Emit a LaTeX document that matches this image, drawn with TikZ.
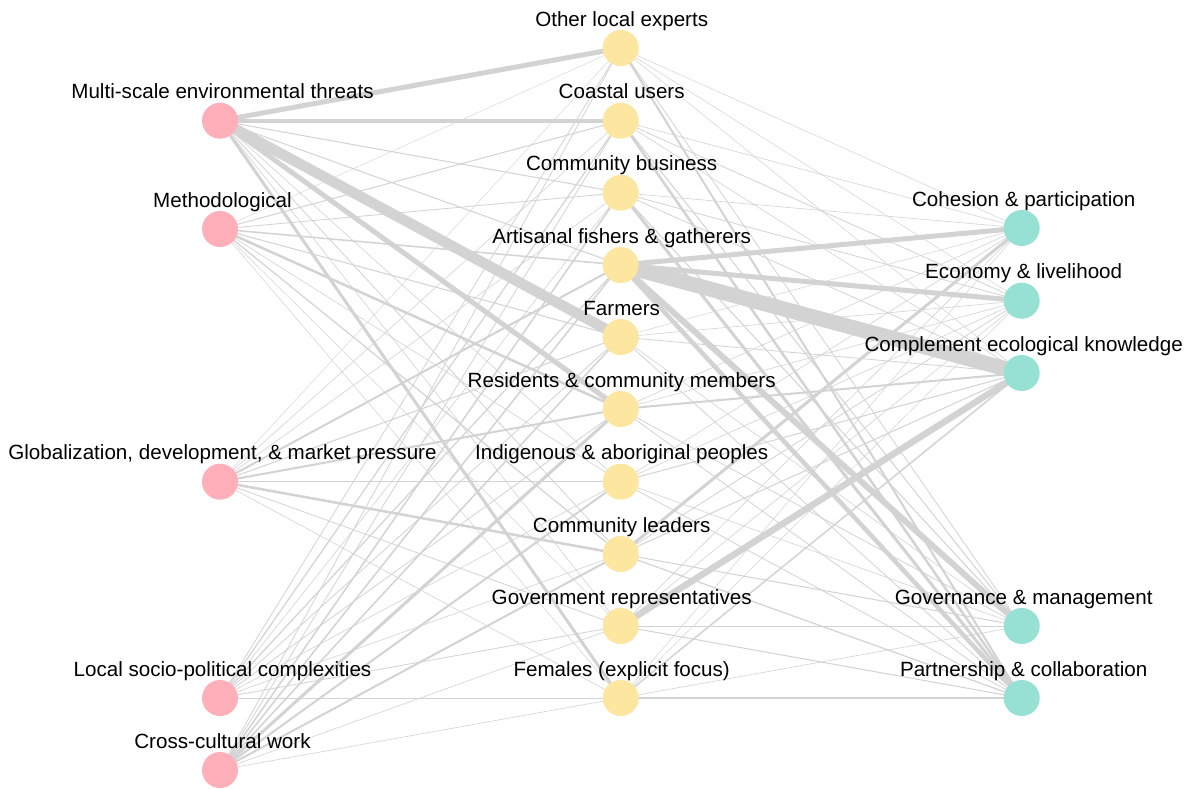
\documentclass[tikz,border=0pt]{standalone}
\usepackage{fontspec}
\setmainfont{Liberation Sans}
\definecolor{pinkc}{RGB}{255,175,185}
\definecolor{yellc}{RGB}{253,230,160}
\definecolor{tealc}{RGB}{150,225,212}
\definecolor{edgec}{RGB}{211,211,211}
\pgfdeclarelayer{bg}
\pgfdeclarelayer{edges}
\pgfsetlayers{bg,edges,main}
\begin{document}
\begin{tikzpicture}[x=1pt,y=-1pt,
  vnode/.style={circle,minimum size=36pt,inner sep=0pt,draw=none},
  lnode/.style={vnode,fill=pinkc},
  mnode/.style={vnode,fill=yellc},
  rnode/.style={vnode,fill=tealc},
  lab/.style={anchor=base,font=\fontsize{20.6}{24}\selectfont,inner sep=0pt,text=black},
  edge/.style={draw=edgec,line cap=butt}]
\begin{pgfonlayer}{bg}
\path[use as bounding box,fill=white] (0,0) rectangle (1188,787);
\end{pgfonlayer}

% left column
\foreach \n/\y/\t in {l1/120.7/{Multi-scale environmental threats},
                       l2/229/{Methodological},
                       l3/481.7/{Globalization, development, \& market pressure},
                       l4/698/{Local socio-political complexities},
                       l5/770/{Cross-cultural work}}{
  \node[lnode] (\n) at (220,\y) {};
  \node[lab] (\n t) at ([xshift=2.5pt,yshift=22pt]\n.center) {\t};
}
% middle column
\foreach \n/\y/\t in {m1/48/{Other local experts},
                       m2/120.7/{Coastal users},
                       m3/192.7/{Community business},
                       m4/265/{Artisanal fishers \& gatherers},
                       m5/337/{Farmers},
                       m6/409/{Residents \& community members},
                       m7/481.7/{Indigenous \& aboriginal peoples},
                       m8/554/{Community leaders},
                       m9/626/{Government representatives},
                       m10/698/{Females (explicit focus)}}{
  \node[mnode] (\n) at (620.7,\y) {};
  \node[lab] (\n t) at ([xshift=1pt,yshift=22pt]\n.center) {\t};
}
% right column
\foreach \n/\y/\t in {r1/228/{Cohesion \& participation},
                       r2/300.7/{Economy \& livelihood},
                       r3/373/{Complement ecological knowledge},
                       r4/626/{Governance \& management},
                       r5/698/{Partnership \& collaboration}}{
  \node[rnode] (\n) at (1021.7,\y) {};
  \node[lab] (\n t) at ([xshift=2pt,yshift=22pt]\n.center) {\t};
}

\begin{pgfonlayer}{edges}
% left -- middle
\foreach \a/\b/\w in {
  l1/m1/5, l1/m2/4, l1/m3/1, l1/m4/1, l1/m5/10.5, l1/m6/5, l1/m7/0.6, l1/m8/0.8, l1/m9/0.6, l1/m10/3,
  l2/m1/0.4, l2/m2/1, l2/m3/0.8, l2/m4/1.5, l2/m5/1, l2/m6/2.5, l2/m7/0.6, l2/m8/1.2, l2/m9/0.5, l2/m10/0.5,
  l3/m1/0.4, l3/m2/0.6, l3/m3/0.6, l3/m4/2, l3/m5/1, l3/m6/2, l3/m7/1, l3/m8/2.5, l3/m9/0.8, l3/m10/0.6,
  l4/m1/0.8, l4/m2/1.2, l4/m3/0.6, l4/m4/1.2, l4/m5/0.8, l4/m6/0.8, l4/m7/0.6, l4/m8/0.6, l4/m9/0.8, l4/m10/1,
  l5/m1/0.8, l5/m2/0.8, l5/m3/1.5, l5/m4/1.5, l5/m5/1.5, l5/m6/3, l5/m7/2, l5/m8/2, l5/m9/0.6, l5/m10/0.6}{
  \draw[edge,line width=\w pt] (\a.center) -- (\b.center);
}
% middle -- right
\foreach \a/\b/\w in {
  m1/r1/0.5, m1/r2/0.5, m1/r3/0.5, m1/r4/0.8, m1/r5/2,
  m2/r1/0.6, m2/r2/0.8, m2/r3/0.6, m2/r4/1, m2/r5/2.5,
  m3/r1/0.6, m3/r2/0.8, m3/r3/0.8, m3/r4/1, m3/r5/3,
  m4/r1/5, m4/r2/5, m4/r3/15, m4/r4/6, m4/r5/4.5,
  m5/r1/0.5, m5/r2/0.6, m5/r3/0.8, m5/r4/0.6, m5/r5/0.8,
  m6/r1/0.6, m6/r2/0.6, m6/r3/2, m6/r4/0.8, m6/r5/0.8,
  m7/r1/0.6, m7/r2/0.6, m7/r3/1, m7/r4/0.6, m7/r5/0.8,
  m8/r1/3, m8/r2/0.8, m8/r3/1, m8/r4/1, m8/r5/1.2,
  m9/r1/0.6, m9/r2/0.6, m9/r3/6.5, m9/r4/0.6, m9/r5/1,
  m10/r1/0.5, m10/r2/0.5, m10/r3/1.5, m10/r4/0.6, m10/r5/1.5}{
  \draw[edge,line width=\w pt] (\a.center) -- (\b.center);
}
\end{pgfonlayer}
\end{tikzpicture}
\end{document}
